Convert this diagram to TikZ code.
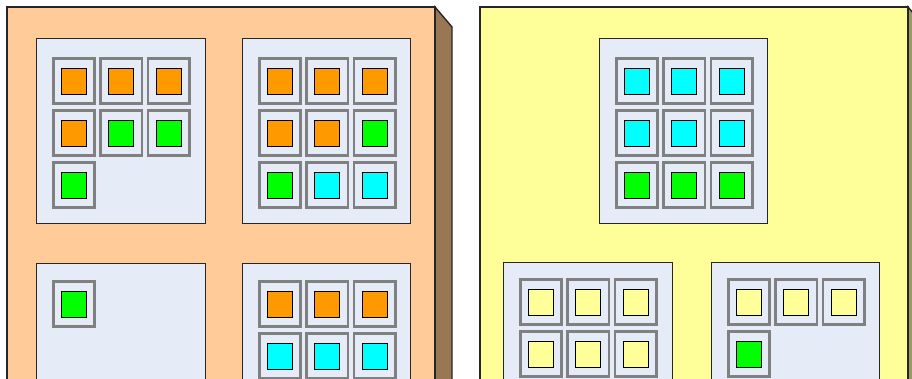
\documentclass[tikz,border=0pt]{standalone}
\definecolor{boxorange}{HTML}{FFCC99}
\definecolor{sideorange}{HTML}{997755}
\definecolor{boxyellow}{HTML}{FFFF99}
\definecolor{sideyellow}{HTML}{999966}
\definecolor{panelbg}{HTML}{E6ECF7}
\definecolor{cellgrey}{HTML}{808080}
\definecolor{cO}{HTML}{FF9900}
\definecolor{cG}{HTML}{00FF00}
\definecolor{cC}{HTML}{00FFFF}
\definecolor{cY}{HTML}{FFFF99}
\newcommand\mkcell[4]{%
  \node[cellbox] (#1) at (#2,#3) {};
  \node[sqbox,fill=#4] (#1s) at (#1) {};}
\tikzset{
  cellbox/.style={draw=cellgrey,line width=2.6pt,fill=panelbg,minimum width=41.4pt,minimum height=45.4pt,inner sep=0pt},
  sqbox/.style={draw=black,line width=0.9pt,minimum width=25pt,minimum height=26pt,inner sep=0pt},
  panelbox/.style={draw=black!85,line width=1pt,fill=panelbg},
  bigbox/.style={draw=black!85,line width=1.4pt},
}
\begin{document}
\begin{tikzpicture}[x=1pt,y=-1pt]
\useasboundingbox (0,0) rectangle (912,379);
\clip (0,0) rectangle (912,379);
% left container
\draw[bigbox,fill=sideorange] (435,7) -- (452,27) -- (452,400) -- (435,400) -- cycle;
\draw[bigbox,fill=boxorange] (7,7) rectangle (435,400);
% right container
\draw[bigbox,fill=sideyellow] (908,7) -- (925,27) -- (925,400) -- (908,400) -- cycle;
\draw[bigbox,fill=boxyellow] (480,7) rectangle (908,400);
% panels
\draw[panelbox] (36,39) rectangle (205,224);
\draw[panelbox] (242,39) rectangle (410,224);
\draw[panelbox] (36,263) rectangle (205,400);
\draw[panelbox] (242,263) rectangle (410,400);
\draw[panelbox] (599,39) rectangle (767,224);
\draw[panelbox] (503,262) rectangle (672,400);
\draw[panelbox] (711,262) rectangle (879,400);
% panel 1 (36,39)
\mkcell{a1}{74}{81}{cO}\mkcell{a2}{121.3}{81}{cO}\mkcell{a3}{168.6}{81}{cO}
\mkcell{a4}{74}{133}{cO}\mkcell{a5}{121.3}{133}{cG}\mkcell{a6}{168.6}{133}{cG}
\mkcell{a7}{74}{185}{cG}
% panel 2 (242,39)
\mkcell{b1}{280}{81}{cO}\mkcell{b2}{327.3}{81}{cO}\mkcell{b3}{374.6}{81}{cO}
\mkcell{b4}{280}{133}{cO}\mkcell{b5}{327.3}{133}{cO}\mkcell{b6}{374.6}{133}{cG}
\mkcell{b7}{280}{185}{cG}\mkcell{b8}{327.3}{185}{cC}\mkcell{b9}{374.6}{185}{cC}
% panel 3 (36,263)
\mkcell{c1}{74}{304}{cG}
% panel 4 (242,263)
\mkcell{d1}{280}{304}{cO}\mkcell{d2}{327.3}{304}{cO}\mkcell{d3}{374.6}{304}{cO}
\mkcell{d4}{280}{356}{cC}\mkcell{d5}{327.3}{356}{cC}\mkcell{d6}{374.6}{356}{cC}
% right top (599,39)
\mkcell{e1}{637}{81}{cC}\mkcell{e2}{684.3}{81}{cC}\mkcell{e3}{731.6}{81}{cC}
\mkcell{e4}{637}{133}{cC}\mkcell{e5}{684.3}{133}{cC}\mkcell{e6}{731.6}{133}{cC}
\mkcell{e7}{637}{185}{cG}\mkcell{e8}{684.3}{185}{cG}\mkcell{e9}{731.6}{185}{cG}
% right bottom left (503,262)
\mkcell{f1}{541}{302}{cY}\mkcell{f2}{588.3}{302}{cY}\mkcell{f3}{635.6}{302}{cY}
\mkcell{f4}{541}{354}{cY}\mkcell{f5}{588.3}{354}{cY}\mkcell{f6}{635.6}{354}{cY}
% right bottom right (711,262)
\mkcell{g1}{749}{302}{cY}\mkcell{g2}{796.3}{302}{cY}\mkcell{g3}{843.6}{302}{cY}
\mkcell{g4}{749}{354}{cG}
\end{tikzpicture}
\end{document}
